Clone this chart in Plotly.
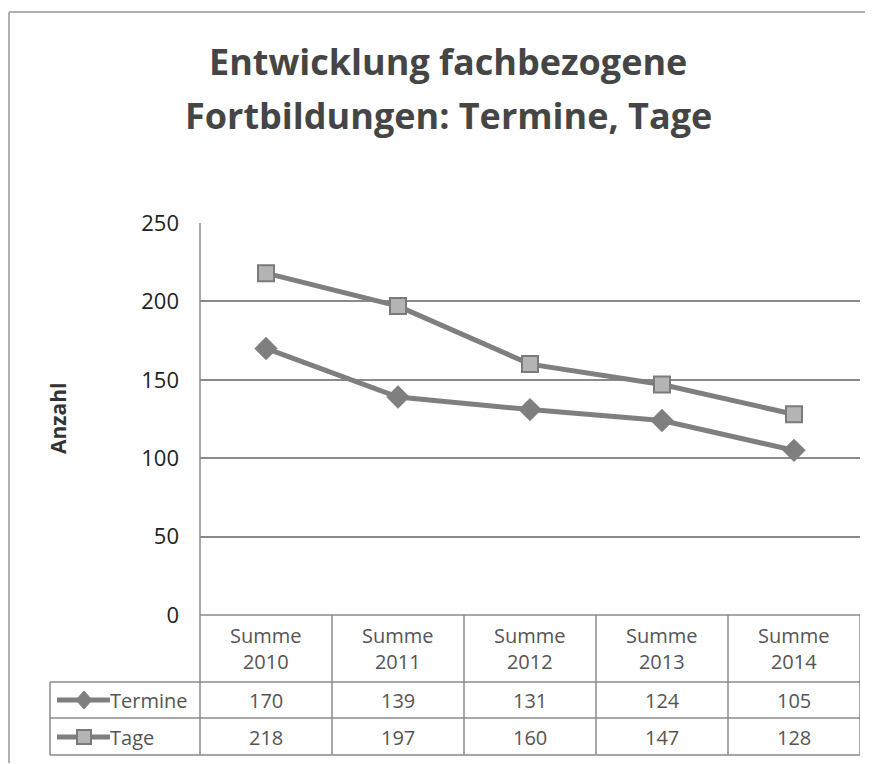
import plotly.graph_objects as go

categories = ["2010", "2011", "2012", "2013", "2014"]
cat_labels = ["Summe<br>2010", "Summe<br>2011", "Summe<br>2012", "Summe<br>2013", "Summe<br>2014"]
termine = [170, 139, 131, 124, 105]
tage = [218, 197, 160, 147, 128]
series_names = ["Termine", "Tage"]
title_lines = ["Entwicklung fachbezogene", "Fortbildungen: Termine, Tage"]

# the page body has an 8px margin, so draw the figure 8px smaller and shifted
OFF = 8
W, H = 873 - OFF, 764 - OFF
L, R, T, B = 200 - OFF, 873 - 860, 223 - OFF, 764 - 615
pw, ph = W - L - R, H - T - B

def px(x):
    return (x - OFF - L) / pw

def py(y):
    return (H - B - (y - OFF)) / ph

line_col = "#7f7f7f"
txt_col = "#555555"
font = "Open Sans"

fig = go.Figure()
fig.add_trace(go.Scatter(
    x=categories, y=termine, name="Termine", mode="lines+markers",
    line=dict(color=line_col, width=5),
    marker=dict(symbol="diamond", size=18, color=line_col)))
fig.add_trace(go.Scatter(
    x=categories, y=tage, name="Tage", mode="lines+markers",
    line=dict(color=line_col, width=5),
    marker=dict(symbol="square", size=16, color="#b4b4b4",
                line=dict(color="#7a7a7a", width=2))))

shapes = []
grid = "#8a8a8a"
# outer chart border (scan edge)
shapes.append(dict(type="line", xref="paper", yref="paper", x0=px(9), x1=px(871), y0=py(12), y1=py(12),
                   line=dict(color="#b0b0b0", width=2)))
shapes.append(dict(type="line", xref="paper", yref="paper", x0=px(9), x1=px(9), y0=py(12), y1=py(763),
                   line=dict(color="#b0b0b0", width=2)))
# table horizontal lines
shapes.append(dict(type="line", xref="paper", yref="paper", x0=0, x1=1, y0=0, y1=0, line=dict(color=grid, width=1.5)))
for yy in [682, 718, 755]:
    shapes.append(dict(type="line", xref="paper", yref="paper", x0=px(50), x1=1, y0=py(yy), y1=py(yy),
                       line=dict(color=grid, width=1.5)))
# table vertical lines
shapes.append(dict(type="line", xref="paper", yref="paper", x0=0, x1=0, y0=1, y1=py(755), line=dict(color=grid, width=1.5)))
shapes.append(dict(type="line", xref="paper", yref="paper", x0=px(50), x1=px(50), y0=py(682), y1=py(755), line=dict(color=grid, width=1.5)))
for i in range(len(categories)):
    shapes.append(dict(type="line", xref="x", yref="paper", x0=i + 0.5, x1=i + 0.5, y0=0, y1=py(755),
                       line=dict(color=grid, width=1.5)))

def note(text, x, y, size, xref="paper", **kw):
    d = dict(text=text, xref=xref, yref="paper", x=x, y=y, showarrow=False,
             xanchor="center", yanchor="middle",
             font=dict(family=font, size=size, color=kw.pop("color", txt_col)))
    d.update(kw)
    return d

annotations = []
for line, yy in zip(title_lines, [62, 115]):
    annotations.append(note("<b>%s</b>" % line, px(448), py(yy), 36, color="#454545"))
annotations.append(note("<b>Anzahl</b>", px(58), py(419), 21, textangle=-90, color="#333333"))
for i, lab in enumerate(cat_labels):
    annotations.append(note(lab, i, py(648), 20, xref="x", align="center"))
    annotations.append(note(str(termine[i]), i, py(700), 20, xref="x"))
    annotations.append(note(str(tage[i]), i, py(737), 20, xref="x"))
for name, yy in zip(series_names, [700, 737]):
    annotations.append(note(name, px(108), py(yy), 20, xanchor="left"))
    shapes.append(dict(type="line", xref="paper", yref="paper", x0=px(57), x1=px(110), y0=py(yy), y1=py(yy),
                       line=dict(color=line_col, width=5)))
# legend key markers
shapes.append(dict(type="path", xref="paper", yref="paper",
                   path="M %f %f L %f %f L %f %f L %f %f Z" % (px(84), py(691), px(92), py(700), px(84), py(709), px(76), py(700)),
                   fillcolor=line_col, line=dict(color=line_col, width=1)))
shapes.append(dict(type="rect", xref="paper", yref="paper", x0=px(77), x1=px(91), y0=py(730), y1=py(744),
                   fillcolor="#b4b4b4", line=dict(color="#7a7a7a", width=2)))

fig.update_layout(
    width=W, height=H,
    margin=dict(l=L, r=R, t=T, b=B),
    paper_bgcolor="white", plot_bgcolor="white",
    showlegend=False,
    shapes=shapes, annotations=annotations,
    xaxis=dict(type="category", range=[-0.5, 4.5], showticklabels=False, showgrid=False,
               zeroline=False, showline=False),
    yaxis=dict(range=[0, 250], dtick=50, showgrid=True, gridcolor=grid, gridwidth=1.5,
               zeroline=False, showline=False, ticklabelstandoff=20,
               tickfont=dict(family=font, size=22, color="#222222")),
)

fig.write_html("out.html")
